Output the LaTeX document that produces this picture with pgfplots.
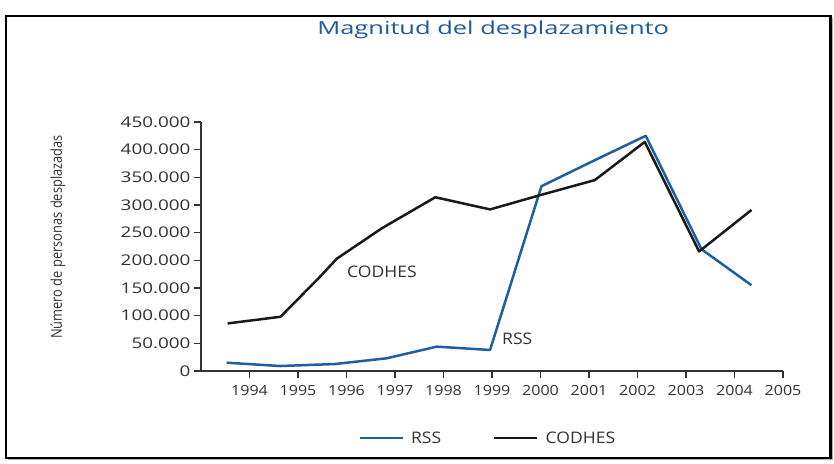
\documentclass[border=0pt]{standalone}
\usepackage{fontspec}
\usepackage{pgfplots}
\pgfplotsset{compat=1.18}
\setmainfont{Open Sans}
\newfontfamily\ftitle{Open Sans}[FakeStretch=1.42]
\newfontfamily\fyt{Open Sans}[FakeStretch=1.28]
\newfontfamily\fxt{Open Sans}[FakeStretch=1.15]
\newfontfamily\flab{Open Sans}[FakeStretch=1.1]
\newfontfamily\fyl{Open Sans}[FakeStretch=0.86]
\definecolor{rssblue}{RGB}{31,94,163}
\definecolor{titleblue}{RGB}{31,90,158}
\definecolor{txt}{RGB}{50,50,50}
\begin{document}
\begin{tikzpicture}
\useasboundingbox (0,0) rectangle (834bp,464bp);
\fill[white] (0,0) rectangle (834bp,464bp);
\draw[gray!60, line width=1.5bp] (8bp,4.5bp) -- (832bp,4.5bp) -- (832bp,446bp);
\draw[black, line width=2.2bp] (6bp,6bp) rectangle (830.5bp,448bp);
\begin{axis}[
  at={(201bp,93bp)}, anchor=south west,
  scale only axis, width=582bp, height=249bp,
  xmin=1993, xmax=2005, ymin=0, ymax=450000,
  scaled y ticks=false,
  axis lines=left,
  axis line style={-, line width=1.2bp, color=black!80},
  tick style={line width=1.1bp, color=black!80},
  tick align=outside,
  major tick length=7bp,
  clip=false,
  xtick={1994,1995,1996,1997,1998,1999,2000,2001,2002,2003,2004,2005},
  xticklabels={1994,1995,1996,1997,1998,1999,2000,2001,2002,2003,2004,2005},
  ytick={0,50000,100000,150000,200000,250000,300000,350000,400000,450000},
  yticklabels={0,50.000,100.000,150.000,200.000,250.000,300.000,350.000,400.000,450.000},
  xticklabel style={font=\fxt\fontsize{14}{16}\selectfont, text=txt, yshift=-4bp},
  yticklabel style={font=\fyt\fontsize{14.8}{16}\selectfont, text=txt},
  ylabel={Número de personas desplazadas},
  ylabel style={at={(axis description cs:-0.2457,0.538)}, anchor=center, font=\fyl\fontsize{15}{17}\selectfont, text=txt},
  title={Magnitud del desplazamiento},
  title style={at={(axis description cs:0.502,1.0)}, anchor=center, yshift=86bp, font=\ftitle\fontsize{18}{20}\selectfont, text=titleblue},
  legend columns=2,
  legend style={at={(axis description cs:0.493,-0.269)}, anchor=center, draw=none, fill=none,
    font=\flab\fontsize{16}{18}\selectfont, text=txt,
    /tikz/every odd column/.append style={column sep=5bp},
    /tikz/every even column/.append style={column sep=50bp}},
  legend image code/.code={\draw[#1] (0bp,0bp) -- (43bp,0bp);},
]
\addplot[rssblue, line width=2.5bp, line join=round] coordinates {
  (1993.53,15000) (1994.63,9000) (1995.76,12600) (1996.83,23000) (1997.86,44000)
  (1998.96,38000) (2000.02,334000) (2001.12,381000) (2002.17,425000) (2003.32,220000) (2004.35,155000)
};
\addlegendentry{RSS}
\addplot[black!90, line width=2.5bp, line join=round] coordinates {
  (1993.55,86000) (1994.64,98000) (1995.45,170000) (1995.8,203000) (1996.73,258000) (1997.83,314000)
  (1998.96,292000) (2000.0,318000) (2001.12,345000) (2002.15,414000) (2003.27,216000) (2004.35,291000)
};
\addlegendentry{CODHES}
\node[font=\flab\fontsize{16}{18}\selectfont, text=txt] at (axis cs:1996.73,179000) {CODHES};
\node[font=\flab\fontsize{16}{18}\selectfont, text=txt] at (axis cs:1999.52,58000) {RSS};
\end{axis}
\end{tikzpicture}
\end{document}
